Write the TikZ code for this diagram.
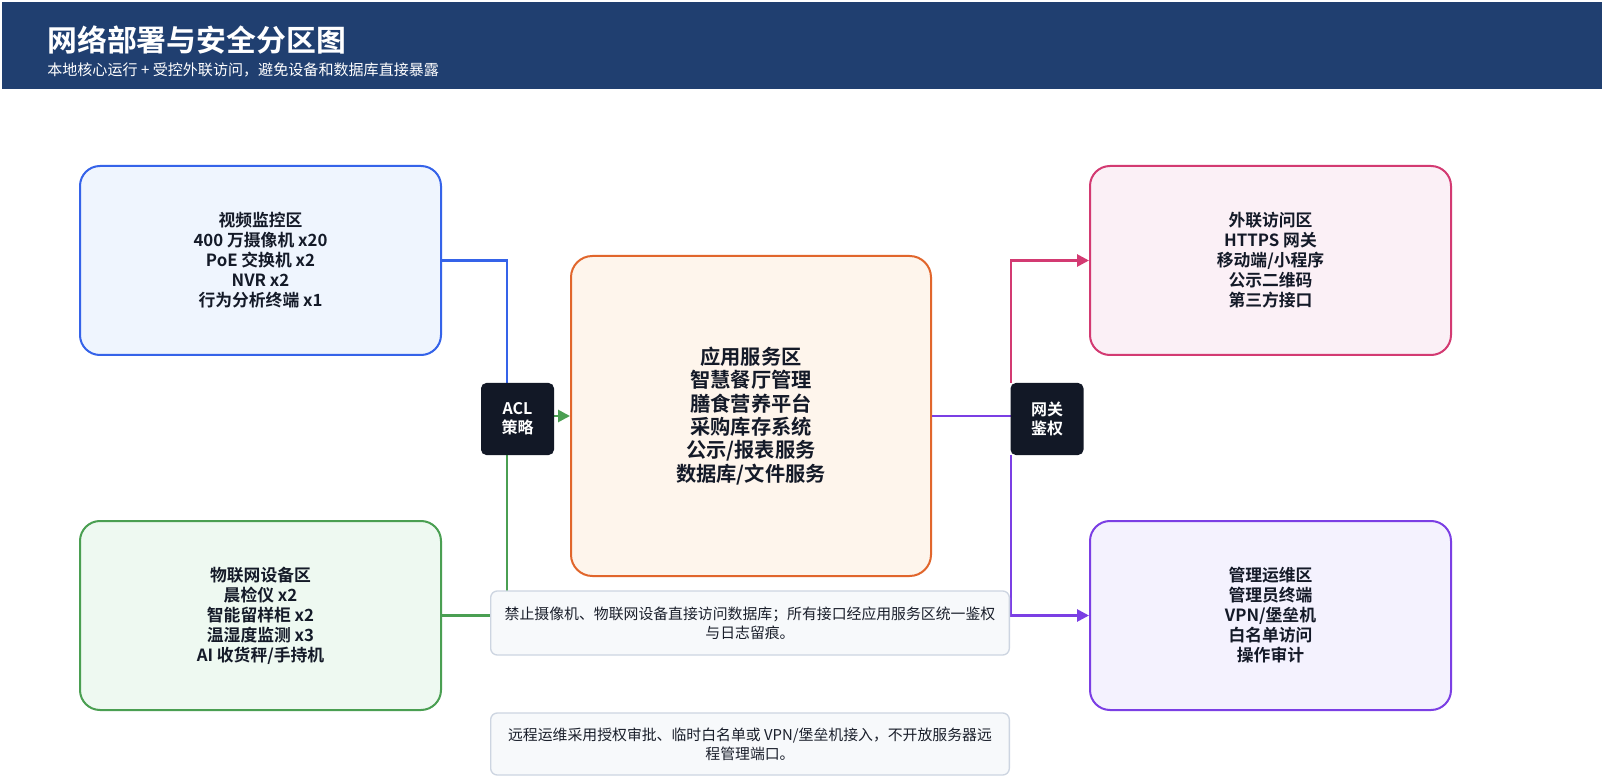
\documentclass[tikz,border=0pt]{standalone}
\usepackage{fontspec}
\setmainfont{Noto Sans CJK SC}[BoldFont={Noto Sans CJK SC Bold}]
\usetikzlibrary{arrows.meta}
\definecolor{hdr}{HTML}{203F70}
\definecolor{ink}{HTML}{141A28}
\definecolor{dark}{HTML}{121826}
\definecolor{bluel}{HTML}{3563E9}
\definecolor{bluef}{HTML}{EFF5FE}
\definecolor{greenl}{HTML}{4A9F52}
\definecolor{greenf}{HTML}{EEF9F1}
\definecolor{orangel}{HTML}{E1662C}
\definecolor{orangef}{HTML}{FEF5EC}
\definecolor{pinkl}{HTML}{D33A72}
\definecolor{pinkf}{HTML}{FBF0F6}
\definecolor{purplel}{HTML}{7B3FE4}
\definecolor{purplef}{HTML}{F4F2FE}
\definecolor{notel}{HTML}{CDD5E1}
\definecolor{notef}{HTML}{F7F9FB}
\definecolor{notet}{HTML}{1A1F2B}
\tikzset{
  zone/.style={draw, line width=1.5pt, rounded corners=15pt, minimum width=270.75pt, minimum height=141.75pt,
    align=center, font=\fontsize{12.6pt}{15pt}\selectfont\bfseries, text=ink, inner sep=0pt},
  hub/.style={draw, line width=1.5pt, rounded corners=16pt, minimum width=270pt, minimum height=240pt,
    align=center, font=\fontsize{15.2pt}{17.5pt}\selectfont\bfseries, text=ink, inner sep=0pt},
  gate/.style={fill=dark, rounded corners=4pt, minimum width=54.75pt, minimum height=54pt,
    align=center, font=\fontsize{12pt}{14.5pt}\selectfont\bfseries, text=white, inner sep=0pt},
  note/.style={draw=notel, fill=notef, line width=1pt, rounded corners=5pt, minimum width=389pt,
    align=center, font=\fontsize{11.15pt}{14.3pt}\selectfont, text=notet, inner sep=0pt},
  link/.style={line width=2pt},
  tip/.style={-{Triangle[length=9pt,width=9pt]}},
}
\begin{document}
\begin{tikzpicture}[x=0.75pt,y=-0.75pt]
\useasboundingbox (0,0) rectangle (1604,777);
\fill[white] (0,0) rectangle (1604,777);
\fill[hdr] (2,2) rectangle (1602,89);
\node[anchor=west, text=white, font=\fontsize{22.4pt}{26pt}\selectfont\bfseries, inner sep=0pt] (title) at (47,40) {网络部署与安全分区图};
\node[anchor=west, text=white, font=\fontsize{11.3pt}{14pt}\selectfont, inner sep=0pt] (subtitle) at (47,70) {本地核心运行 + 受控外联访问，避免设备和数据库直接暴露};

\node[zone, draw=bluel, fill=bluef] (video) at (260.5,260.5) {视频监控区\\400 万摄像机 x20\\PoE 交换机 x2\\NVR x2\\行为分析终端 x1};
\node[zone, draw=greenl, fill=greenf] (iot) at (260.5,615.5) {物联网设备区\\晨检仪 x2\\智能留样柜 x2\\温湿度监测 x3\\AI 收货秤/手持机};
\node[zone, draw=pinkl, fill=pinkf] (ext) at (1270.5,260.5) {外联访问区\\HTTPS 网关\\移动端/小程序\\公示二维码\\第三方接口};
\node[zone, draw=purplel, fill=purplef] (ops) at (1270.5,615.5) {管理运维区\\管理员终端\\VPN/堡垒机\\白名单访问\\操作审计};
\node[hub, draw=orangel, fill=orangef] (app) at (751,416) {应用服务区\\智慧餐厅管理\\膳食营养平台\\采购库存系统\\公示/报表服务\\数据库/文件服务};

\coordinate (aclbus) at (507,419);
\coordinate (gwbus) at (1011,419);

% connectors
\draw[link, bluel] (video.east) -| (aclbus |- 0,383);
\draw[link, greenl] (iot.east) -| (aclbus |- 0,455);
\draw[link, greenl, tip] (554,416) -- (app.west);
\draw[link, purplel] (app.east) -- (gwbus |- app.east);
\draw[link, pinkl, tip] (gwbus |- 0,383) |- (ext.west);
\draw[link, purplel, tip] (gwbus |- 0,455) |- (ops.west);

\node[gate] (acl) at (517.5,419) {ACL\\策略};
\node[gate] (gw) at (1047,419) {网关\\鉴权};

\node[note, minimum height=48pt] (note1) at (750,623) {禁止摄像机、物联网设备直接访问数据库；所有接口经应用服务区统一鉴权\\与日志留痕。};
\node[note, minimum height=46.5pt] (note2) at (750,744) {远程运维采用授权审批、临时白名单或 VPN/堡垒机接入，不开放服务器远\\程管理端口。};
\end{tikzpicture}
\end{document}
